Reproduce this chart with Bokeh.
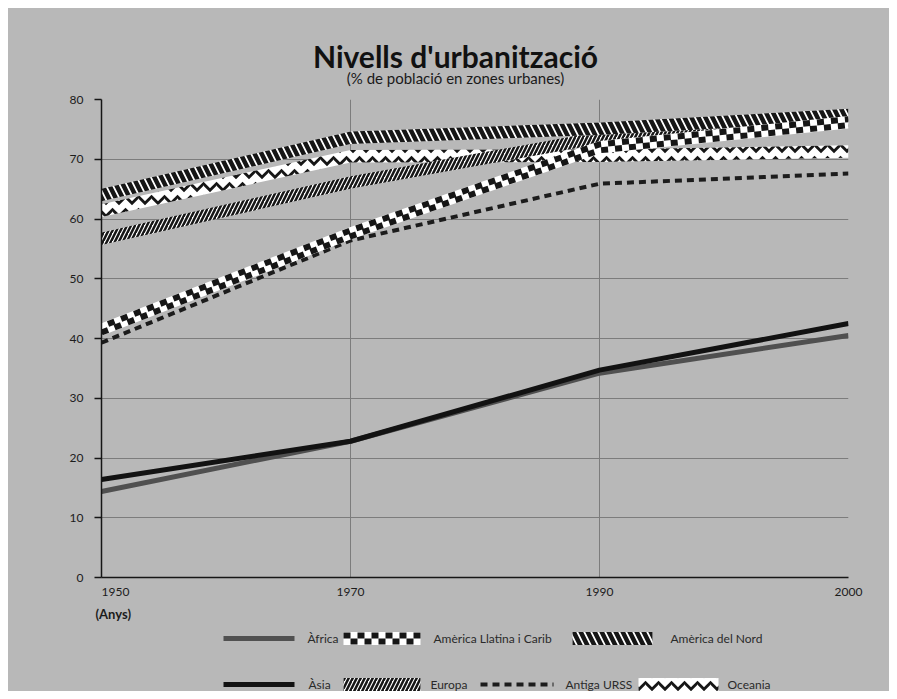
from bokeh.plotting import figure
from bokeh.models import Range1d, FixedTicker
from bokeh.layouts import column
from bokeh.embed import file_html
from bokeh.resources import INLINE
from bokeh.core.properties import value

# ---------------- data ----------------
years = ["1950", "1970", "1990", "2000"]
africa = [14.4, 22.8, 34.2, 40.5]
asia = [16.4, 22.8, 34.7, 42.5]
llatina = [41.5, 57.6, 72.0, 76.2]
nord = [64.0, 73.6, 75.1, 77.4]
europa = [56.7, 66.1, 73.6, 76.5]
urss = [39.3, 56.4, 65.9, 67.6]
oceania = [61.4, 70.5, 70.6, 71.3]
yticks = [0, 10, 20, 30, 40, 50, 60, 70, 80]

title = "Nivells d'urbanització"
subtitle = "(% de població en zones urbanes)"
xlabel = "(Anys)"
legend_names = ["Àfrica", "Amèrica Llatina i Carib", "Amèrica del Nord",
                "Àsia", "Europa", "Antiga URSS", "Oceania"]

# ---------------- style ----------------
BG = "#b8b8b8"
GRID = "#7c7c7c"
INK = "#161616"
FONT = "Lato"
BAND = 1.05       # half thickness of patterned bands (data units)
CHK = 0.5         # offset of checker rows (data units)
W = 881


def strip(height):
    f = figure(width=W, height=height, x_range=Range1d(0, W), y_range=Range1d(0, height),
               output_backend="svg", toolbar_location=None, min_border=0,
               x_axis_type=None, y_axis_type=None, frame_align=False,
               background_fill_color=BG, border_fill_color=BG, outline_line_color=None,
               styles={"background-color": BG})
    f.grid.visible = False
    return f


# ---------------- title strip ----------------
ts = strip(81)
ts.text(x=[447], y=[34], text=[title], text_font=value(FONT), text_font_style="bold",
        text_font_size="30px", text_align="center", text_baseline="alphabetic",
        text_color="#111111")
ts.text(x=[447], y=[12], text=[subtitle], text_font=value(FONT),
        text_font_size="15px", text_align="center", text_baseline="alphabetic",
        text_color="#1a1a1a")

# ---------------- main chart ----------------
xs = list(range(len(years)))

p = figure(width=W, height=512,
           x_range=Range1d(0, len(years) - 1), y_range=Range1d(yticks[0], yticks[-1]),
           output_backend="svg", toolbar_location=None, frame_align=False,
           min_border_left=93, min_border_right=41, min_border_top=10, min_border_bottom=24,
           background_fill_color=BG, border_fill_color=BG, outline_line_color=None,
           styles={"background-color": BG})

p.xaxis.ticker = FixedTicker(ticks=xs)
p.xaxis.major_label_overrides = {i: (("\u2007" * 4 + years[i]) if i == 0 else years[i]) for i in xs}
p.xaxis.major_tick_out = 0
p.xaxis.major_tick_in = 0
p.xaxis.minor_tick_line_color = None
p.xaxis.major_label_standoff = 6
p.yaxis.ticker = FixedTicker(ticks=yticks)
p.yaxis.major_tick_out = 7
p.yaxis.major_tick_in = 0
p.yaxis.minor_tick_line_color = None
p.yaxis.major_label_standoff = 11
for ax in (p.xaxis, p.yaxis):
    ax.axis_line_color = INK
    ax.axis_line_width = 1.5
    ax.major_tick_line_color = INK
    ax.major_tick_line_width = 1.5
    ax.major_label_text_font = FONT
    ax.major_label_text_font_size = "12px"
    ax.major_label_text_color = "#1c1c1c"

p.xgrid.ticker = FixedTicker(ticks=xs)
p.ygrid.ticker = FixedTicker(ticks=yticks)
p.grid.grid_line_color = GRID
p.grid.grid_line_width = 1


def band(vals, h):
    return [v - h for v in vals], [v + h for v in vals]


# Africa & Asia
p.line(xs, africa, line_color="#505050", line_width=5)
p.line(xs, asia, line_color="#121212", line_width=5)

# Oceania (zigzag pattern)
lo, hi = band(oceania, BAND)
p.varea(x=xs, y1=lo, y2=hi, fill_color="white", hatch_pattern="horizontal_wave",
        hatch_color=INK, hatch_scale=13, hatch_weight=3)

# Antiga URSS (dashed)
p.line(xs, urss, line_color="#1c1c1c", line_width=4, line_dash="7 5")

# Europa (fine hatch)
lo, hi = band(europa, BAND)
p.varea(x=xs, y1=lo, y2=hi, fill_color="white", hatch_pattern="right_diagonal_line",
        hatch_color=INK, hatch_scale=8, hatch_weight=2.5)

# America del Nord (broad stripes)
lo, hi = band(nord, BAND)
p.varea(x=xs, y1=lo, y2=hi, fill_color="white", hatch_pattern="left_diagonal_line",
        hatch_color=INK, hatch_scale=14, hatch_weight=4.5)

# America Llatina i Carib (checker)
lo, hi = band(llatina, BAND)
p.varea(x=xs, y1=lo, y2=hi, fill_color="white")
up, dn = band(llatina, CHK)
p.line(xs, up, line_color=INK, line_width=6, line_dash="7 7", line_dash_offset=0)
p.line(xs, dn, line_color=INK, line_width=6, line_dash="7 7", line_dash_offset=7)

# ---------------- legend strip ----------------
lg = strip(90)
lg.text(x=[87], y=[78], text=[xlabel], text_font=value(FONT), text_font_size="13px",
        text_font_style="bold", text_baseline="middle", text_align="left",
        text_color="#1c1c1c")

# layout of legend entries: (kind, sample x0, sample x1, row y, label x)
leg_layout = [
    ("africa", 215, 286, 53, 299),
    ("llatina", 335, 412, 53, 425),
    ("nord", 564, 644, 53, 662),
    ("asia", 215, 286, 7, 300),
    ("europa", 335, 412, 7, 422),
    ("urss", 472, 545, 7, 557),
    ("oceania", 630, 710, 7, 719),
]
for name, (kind, x0, x1, yc, lx) in zip(legend_names, leg_layout):
    if kind == "africa":
        lg.line([x0, x1], [yc, yc], line_color="#505050", line_width=5)
    elif kind == "asia":
        lg.line([x0, x1], [yc, yc], line_color="#121212", line_width=5)
    elif kind == "urss":
        lg.line([x0, x1], [yc, yc], line_color="#1c1c1c", line_width=4, line_dash="7 5")
    elif kind == "llatina":
        lg.varea(x=[x0, x1], y1=[yc - 6.5] * 2, y2=[yc + 6.5] * 2, fill_color="white")
        lg.line([x0, x1], [yc + 3] * 2, line_color=INK, line_width=6, line_dash="7 7")
        lg.line([x0, x1], [yc - 3] * 2, line_color=INK, line_width=6, line_dash="7 7",
                line_dash_offset=7)
    else:
        pat = {"nord": ("left_diagonal_line", 14, 4.5),
               "europa": ("right_diagonal_line", 8, 2.5),
               "oceania": ("horizontal_wave", 13, 3)}[kind]
        lg.varea(x=[x0, x1], y1=[yc - 6.5] * 2, y2=[yc + 6.5] * 2, fill_color="white",
                 hatch_pattern=pat[0], hatch_scale=pat[1], hatch_weight=pat[2],
                 hatch_color=INK)
    lg.text(x=[lx], y=[yc], text=[name], text_font=value(FONT), text_font_size="12px",
            text_baseline="middle", text_align="left", text_color="#2a2a2a")

layout = column(ts, p, lg, spacing=0, margin=(8, 0, 0, 8),
                styles={"background-color": BG})
open("out.html", "w").write(file_html(layout, INLINE))
